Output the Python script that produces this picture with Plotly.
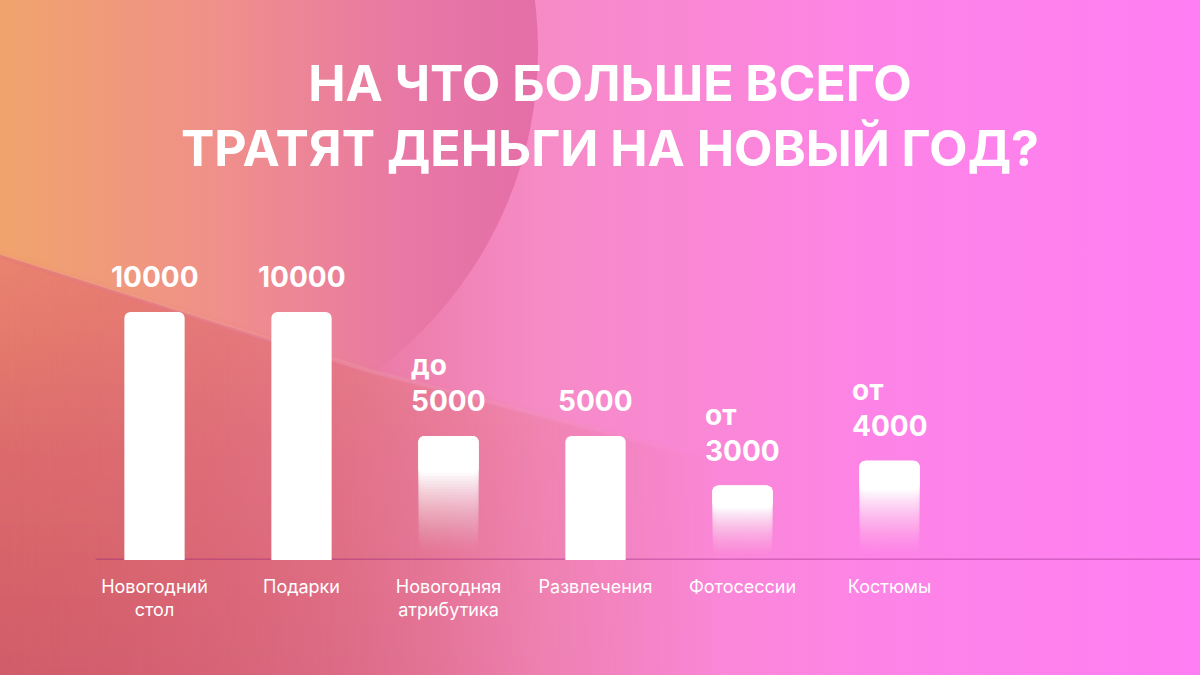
import base64
import numpy as np
import plotly.graph_objects as go

# ---------------- data ----------------
categories = ["Новогодний<br>стол", "Подарки", "Новогодняя<br>атрибутика",
              "Развлечения", "Фотосессии", "Костюмы"]
values = [10000, 10000, 5000, 5000, 3000, 4000]
prefixes = ["", "", "до", "", "от", "от"]
faded = [False, False, True, False, True, True]
title_lines = ["НА ЧТО БОЛЬШЕ ВСЕГО", "ТРАТЯТ ДЕНЬГИ НА НОВЫЙ ГОД?"]

# ---------------- style / layout constants ----------------
W, H = 1200, 675
ML, MR, MT, MB = 81, 0, 60, 115
PW, PH = W - ML - MR, H - MT - MB
CAT_STEP = 147.0
X_MIN = -0.5
X_MAX = X_MIN + PW / CAT_STEP
Y_MAX = 10000 * PH / 248.0
FONT_BOLD = "Inter"
FONT_REG = "Inter"

svg = f"""<svg xmlns="http://www.w3.org/2000/svg" width="{W}" height="{H}" viewBox="0 0 {W} {H}">
<defs>
<linearGradient id="base" x1="0" y1="0" x2="{W}" y2="0" gradientUnits="userSpaceOnUse">
 <stop offset="0" stop-color="#dc6478"/>
 <stop offset="0.28" stop-color="#e8789f"/>
 <stop offset="0.45" stop-color="#f68bc6"/>
 <stop offset="0.72" stop-color="#fd84e6"/>
 <stop offset="1" stop-color="#ff7ef3"/>
</linearGradient>
<linearGradient id="lens" x1="0" y1="0" x2="540" y2="0" gradientUnits="userSpaceOnUse">
 <stop offset="0" stop-color="#f0a46c"/>
 <stop offset="0.4" stop-color="#f0908a"/>
 <stop offset="0.75" stop-color="#e878a5"/>
 <stop offset="1" stop-color="#e46ea8"/>
</linearGradient>
<clipPath id="above">
 <path d="M0,0 L{W},0 L{W},560 L720,462 L367,370 L0,255 Z"/>
</clipPath>
<linearGradient id="lowfill" x1="0" y1="255" x2="0" y2="{H}" gradientUnits="userSpaceOnUse">
 <stop offset="0" stop-color="#ea846e"/>
 <stop offset="0.45" stop-color="#dc6c6c"/>
 <stop offset="1" stop-color="#d05c6a"/>
</linearGradient>
<linearGradient id="lowfade" x1="0" y1="0" x2="720" y2="0" gradientUnits="userSpaceOnUse">
 <stop offset="0" stop-color="#ffffff" stop-opacity="1"/>
 <stop offset="0.4" stop-color="#ffffff" stop-opacity="0.55"/>
 <stop offset="1" stop-color="#ffffff" stop-opacity="0"/>
</linearGradient>
<mask id="lowmask" maskUnits="userSpaceOnUse" x="0" y="0" width="{W}" height="{H}">
 <rect x="0" y="0" width="{W}" height="{H}" fill="url(#lowfade)"/>
</mask>
<filter id="soft" x="-5%" y="-5%" width="110%" height="110%">
 <feGaussianBlur stdDeviation="2.5"/>
</filter>
<linearGradient id="band" x1="0" y1="0" x2="720" y2="0" gradientUnits="userSpaceOnUse">
 <stop offset="0" stop-color="#ffffff" stop-opacity="0.05"/>
 <stop offset="0.5" stop-color="#ffffff" stop-opacity="0.09"/>
 <stop offset="1" stop-color="#ffffff" stop-opacity="0"/>
</linearGradient>
</defs>
<rect x="0" y="0" width="{W}" height="{H}" fill="url(#base)"/>
<circle cx="140" cy="50" r="398" fill="url(#lens)" clip-path="url(#above)"/>
<g mask="url(#lowmask)">
<path d="M-20,249 L367,370 L720,462 L740,{H+20} L-20,{H+20} Z" fill="url(#lowfill)" filter="url(#soft)"/>
</g>
<path d="M0,255 L367,370 L720,462" fill="none" stroke="url(#band)" stroke-width="4"/>
</svg>"""
bg_uri = "data:image/svg+xml;base64," + base64.b64encode(svg.encode("utf-8")).decode("ascii")

fig = go.Figure()

# solid bars
fig.add_trace(go.Bar(
    x=categories,
    y=[v if not f else None for v, f in zip(values, faded)],
    width=0.41,
    marker=dict(color="white", line=dict(width=0)),
    hoverinfo="skip", showlegend=False,
))

# faded bars: overlapping layers that build a vertical white gradient
K = 30
levels = np.linspace(0.06, 0.70, K)
targets = ((np.arange(K) + 1) / K) ** 1.3
prev = 0.0
for lev, tgt in zip(levels, targets):
    alpha = 1.0 if tgt >= 1 else 1 - (1 - tgt) / (1 - prev)
    prev = tgt
    fig.add_trace(go.Bar(
        x=categories,
        base=[v * lev if f else None for v, f in zip(values, faded)],
        y=[v * (1 - lev) if f else None for v, f in zip(values, faded)],
        width=0.41,
        marker=dict(color=f"rgba(255,255,255,{alpha:.4f})", line=dict(width=0)),
        hoverinfo="skip", showlegend=False,
    ))

# value labels
for c, v, p in zip(categories, values, prefixes):
    txt = f"{p}<br>{v}" if p else f"{v}"
    fig.add_annotation(
        x=c, y=v, xref="x", yref="y", text=txt, showarrow=False,
        yanchor="bottom", yshift=16, align="left",
        font=dict(family=FONT_BOLD, size=28, color="white", weight=700),
    )

# baseline
fig.add_shape(type="line", xref="x", yref="y", x0=-0.4, x1=X_MAX, y0=0, y1=0,
              line=dict(color="rgba(140,30,120,0.35)", width=3), layer="below")

fig.update_layout(
    width=W, height=H,
    margin=dict(l=ML, r=MR, t=MT, b=MB, pad=0),
    barmode="overlay",
    barcornerradius=6,
    paper_bgcolor="#f07fc0",
    plot_bgcolor="rgba(0,0,0,0)",
    title=dict(
        text="<br>".join(title_lines),
        x=610 / W, xanchor="center", xref="container",
        y=1 - 101 / H, yanchor="top", yref="container",
        font=dict(family=FONT_BOLD, size=50, color="white", weight=700),
    ),
    images=[dict(
        source=bg_uri, xref="paper", yref="paper",
        x=-ML / PW, y=1 + MT / PH, sizex=W / PW, sizey=H / PH,
        xanchor="left", yanchor="top", sizing="stretch", layer="below",
    )],
    xaxis=dict(
        range=[X_MIN, X_MAX], showgrid=False, zeroline=False, showline=False,
        ticks="outside", ticklen=10, tickcolor="rgba(0,0,0,0)",
        tickfont=dict(family=FONT_REG, size=18, color="white"),
        fixedrange=True,
    ),
    yaxis=dict(range=[0, Y_MAX], visible=False, fixedrange=True),
    showlegend=False,
)

fig.write_html(
    "out.html",
    config={"displayModeBar": False},
    post_script="document.body.style.margin='0';document.body.style.overflow='hidden';",
)
